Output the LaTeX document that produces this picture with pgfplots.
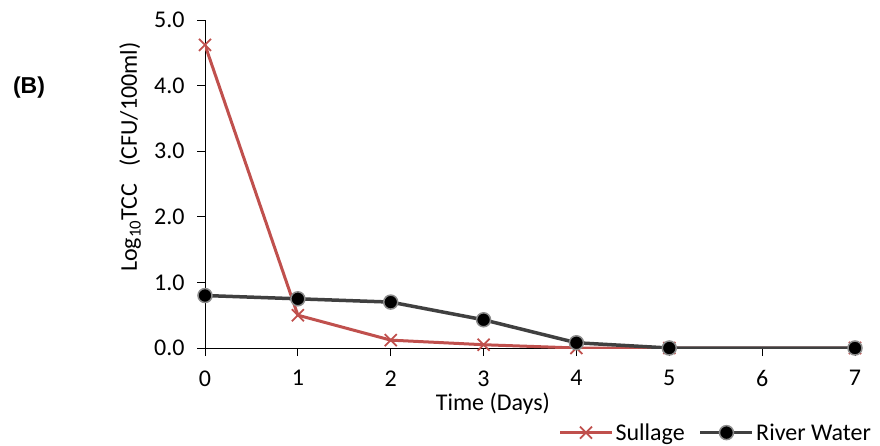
\documentclass[border=0pt]{standalone}
\usepackage{pgfplots}
\pgfplotsset{compat=1.18}
\usepackage{fontspec}
\setmainfont{Carlito}
\newfontfamily\arialfont{Liberation Sans}
\definecolor{sull}{RGB}{192,80,77}
\definecolor{riv}{RGB}{64,64,64}
\begin{document}
\begin{tikzpicture}[x=1pt,y=1pt]
\useasboundingbox (0,0) rectangle (880,445);
\node[font=\arialfont\bfseries\fontsize{23}{27}\selectfont] at (29,357) {(B)};
\begin{axis}[
  at={(205pt,97pt)}, anchor=south west,
  scale only axis, width=650pt, height=328pt,
  xmin=0, xmax=7, ymin=0, ymax=5,
  axis x line*=bottom, axis y line*=left,
  axis line style={-, line width=1pt},
  xtick={0,1,...,7}, ytick={0,1,...,5},
  tick align=outside, major tick length=8pt,
  tick style={line width=1pt, black},
  /pgf/number format/assume math mode=true,
  ticklabel style={font=\fontsize{24}{28}\selectfont},
  yticklabel style={/pgf/number format/.cd, fixed, fixed zerofill, precision=1, /tikz/.cd, xshift=-9pt},
  xticklabel style={yshift=-11pt},
  xlabel={Time (Days)},
  ylabel={Log\textsubscript{10}TCC\hspace{0.7em}(CFU/100ml)},
  label style={font=\fontsize{24}{28}\selectfont},
  xlabel style={at={(axis description cs:0.443,-0.17)}, anchor=center},
  ylabel style={at={(axis description cs:-0.115,0.582)}, anchor=center},
  legend columns=2,
  legend style={at={(axis description cs:1.028,-0.258)}, anchor=east, draw=none,
    font=\fontsize{24}{28}\selectfont, inner sep=0pt,
    /tikz/every even column/.append style={column sep=12pt}},
  legend image code/.code={\draw[mark repeat=2,mark phase=2,#1] plot coordinates {(0pt,0pt) (26pt,0pt) (52pt,0pt)};},
]
\addplot[color=sull, line width=3pt, mark=x, mark size=8.5pt,
  mark options={line width=1.8pt, color=sull}]
  coordinates {(0,4.62) (1,0.50) (2,0.12) (3,0.05) (4,0.0) (5,0.0) (7,0.0)};
\addlegendentry{Sullage}
\addplot[color=riv, line width=3.5pt, mark=*, mark size=7pt,
  mark options={fill=black, draw=gray!90, line width=1.5pt}]
  coordinates {(0,0.80) (1,0.75) (2,0.70) (3,0.43) (4,0.08) (5,0.0) (7,0.0)};
\addlegendentry{River Water}
\end{axis}
\end{tikzpicture}
\end{document}
